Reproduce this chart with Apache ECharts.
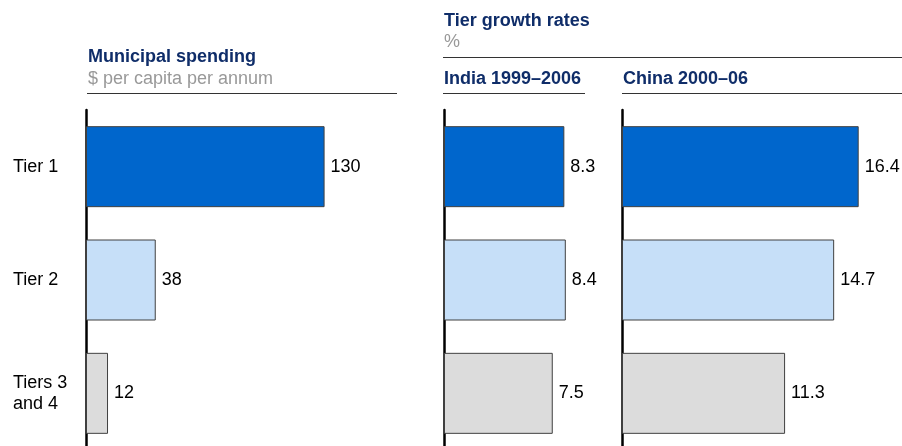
<!DOCTYPE html>
<html>
<head>
<meta charset="utf-8">
<script src="https://cdn.jsdelivr.net/npm/echarts@6/dist/echarts.min.js"></script>
<style>
  html, body { margin: 0; padding: 0; background: #fff; }
  #chart { width: 902px; height: 446px; }
</style>
</head>
<body>
<div id="chart"></div>
<script>
var tiers = ['Tier 1', 'Tier 2', 'Tiers 3\nand 4']
var spending = [130, 38, 12]
var indiaGrowth = [8.3, 8.4, 7.5]
var chinaGrowth = [16.4, 14.7, 11.3]
var tierColors = ['#0066CC', '#C6DFF8', '#DCDCDC']

var FONT = '"Liberation Sans", Arial, sans-serif'
var NAVY = '#0F2D69'

var chart = echarts.init(document.getElementById('chart'))

function makeSeries(values, idx) {
  return {
    type: 'bar',
    xAxisIndex: idx,
    yAxisIndex: idx,
    barWidth: 81,
    data: values.map(function(v, i) {
      return { value: v, itemStyle: { color: tierColors[i] } }
    }),
    itemStyle: { borderColor: '#404040', borderWidth: 1 },
    label: {
      show: true,
      position: 'right',
      distance: 6,
      color: '#000',
      fontSize: 18,
      fontFamily: FONT
    },
    silent: true,
    animation: false
  }
}

function yAxis(idx, showLabels) {
  return {
    type: 'category',
    gridIndex: idx,
    data: tiers,
    inverse: true,
    axisLine: { show: true, lineStyle: { color: '#000', width: 2.5 } },
    axisTick: { show: false },
    axisLabel: {
      show: showLabels,
      align: 'left',
      margin: 73,
      color: '#000',
      fontSize: 18,
      lineHeight: 21,
      fontFamily: FONT
    }
  }
}

function xAxis(idx, max) {
  return {
    type: 'value',
    gridIndex: idx,
    min: 0,
    max: max,
    show: false
  }
}

function headText(x, y, text, bold, color) {
  return {
    type: 'text',
    x: x,
    y: y,
    silent: true,
    style: {
      text: text,
      fill: color,
      font: (bold ? 'bold ' : '') + '18px ' + FONT,
      textVerticalAlign: 'middle'
    }
  }
}

function hLine(x1, x2, y) {
  return {
    type: 'line',
    silent: true,
    shape: { x1: x1, y1: y, x2: x2, y2: y },
    style: { stroke: '#333', lineWidth: 1 }
  }
}

chart.setOption({
  animation: false,
  grid: [
    { left: 86, top: 110, width: 312, height: 340, outerBoundsMode: 'none' },
    { left: 444, top: 110, width: 145, height: 340, outerBoundsMode: 'none' },
    { left: 622, top: 110, width: 280, height: 340, outerBoundsMode: 'none' }
  ],
  xAxis: [xAxis(0, 170), xAxis(1, 10), xAxis(2, 19.4)],
  yAxis: [yAxis(0, true), yAxis(1, false), yAxis(2, false)],
  series: [
    makeSeries(spending, 0),
    makeSeries(indiaGrowth, 1),
    makeSeries(chinaGrowth, 2)
  ],
  graphic: [
    headText(88, 57, 'Municipal spending', true, NAVY),
    headText(88, 79, '$ per capita per annum', false, '#999'),
    headText(444, 21, 'Tier growth rates', true, NAVY),
    headText(444, 42, '%', false, '#999'),
    headText(444, 79, 'India 1999–2006', true, NAVY),
    headText(623, 79, 'China 2000–06', true, NAVY),
    hLine(87, 397, 93.5),
    hLine(443, 902, 57.5),
    hLine(443, 585, 93.5),
    hLine(622, 902, 93.5)
  ]
})
</script>
</body>
</html>
